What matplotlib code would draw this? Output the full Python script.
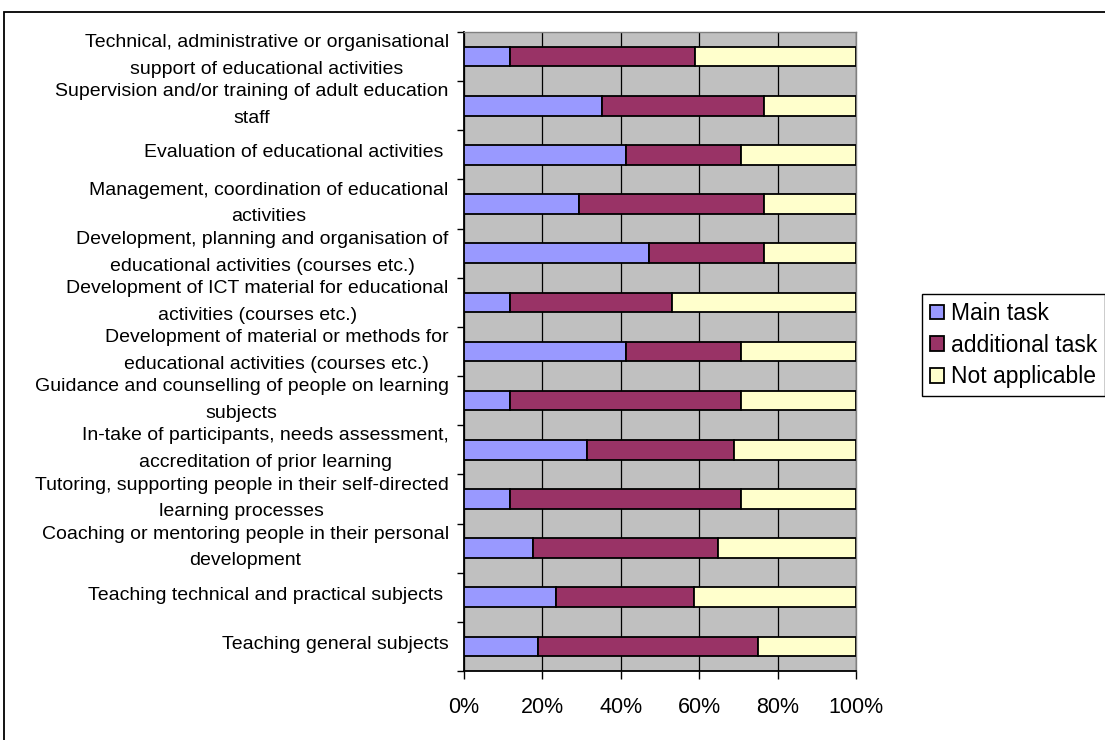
import matplotlib.pyplot as plt
from matplotlib.patches import Rectangle
from matplotlib.ticker import FixedLocator, PercentFormatter

# categories from bottom to top, as Excel draws them
categories = [
    "Teaching general subjects",
    "Teaching technical and practical subjects ",
    "Coaching or mentoring people in their personal\ndevelopment",
    "Tutoring, supporting people in their self-directed\nlearning processes",
    "In-take of participants, needs assessment,\naccreditation of prior learning",
    "Guidance and counselling of people on learning\nsubjects",
    "Development of material or methods for\neducational activities (courses etc.)",
    "Development of ICT material for educational\nactivities (courses etc.)",
    "Development, planning and organisation of\neducational activities (courses etc.)",
    "Management, coordination of educational\nactivities",
    "Evaluation of educational activities ",
    "Supervision and/or training of adult education\nstaff",
    "Technical, administrative or organisational\nsupport of educational activities",
]

# shares in percent
main_task = [18.75, 23.5, 17.6, 11.8, 31.25, 11.8, 41.2, 11.8, 47.1, 29.4, 41.2, 35.3, 11.8]
additional_task = [56.25, 35.3, 47.1, 58.8, 37.5, 58.8, 29.4, 41.2, 29.4, 47.1, 29.4, 41.2, 47.1]
not_applicable = [25.0, 41.2, 35.3, 29.4, 31.25, 29.4, 29.4, 47.1, 23.5, 23.5, 29.4, 23.5, 41.2]

series_names = ["Main task", "additional task", "Not applicable"]
colors = ["#9999FF", "#993366", "#FFFFCC"]

plt.rcParams["font.family"] = ["Liberation Sans", "DejaVu Sans"]

fig = plt.figure(figsize=(11.05, 7.4), dpi=100)
ax = fig.add_axes([464 / 1105, 1 - 671 / 740, 392 / 1105, 639 / 740])
ax.set_facecolor("#C0C0C0")

# outer chart border (partly cut off in the original)
fig.patches.append(Rectangle((4 / 1105, -0.1), 1.2, 1 - 12 / 740 + 0.1,
                             transform=fig.transFigure, fill=False,
                             edgecolor="black", linewidth=1.3))

ypos = list(range(len(categories)))
left = [0.0] * len(categories)
handles = []
for name, vals, col in zip(series_names, [main_task, additional_task, not_applicable], colors):
    bars = ax.barh(ypos, vals, left=left, height=0.4, color=col,
                   edgecolor="black", linewidth=1.3, label=name, zorder=3)
    handles.append(bars)
    left = [l + v for l, v in zip(left, vals)]

ax.set_xlim(0, 100)
ax.set_ylim(-0.5, len(categories) - 0.5)
ax.xaxis.set_major_locator(FixedLocator([0, 20, 40, 60, 80, 100]))
ax.xaxis.set_major_formatter(PercentFormatter(decimals=0))
ax.grid(axis="x", color="black", linewidth=0.9, zorder=1)
ax.set_axisbelow(True)

# Excel sits the labels a bit above the bar centre (more for wrapped ones);
# the major ticks are hidden so only the labels move
label_pos = [y + (0.15 if "\n" in c else 0.08) for y, c in zip(ypos, categories)]
ax.set_yticks(label_pos)
ax.set_yticklabels(categories, fontsize=14, linespacing=1.75, multialignment="center")
ax.set_yticks([i - 0.5 for i in range(len(categories) + 1)], minor=True)
ax.tick_params(axis="y", which="major", length=0, pad=11)
ax.tick_params(axis="y", which="minor", length=5, width=1, direction="out")
ax.tick_params(axis="x", length=6, width=1, direction="out", labelsize=15.5, pad=13)

for side in ["top", "right"]:
    ax.spines[side].set_color("#808080")
    ax.spines[side].set_linewidth(1)
for side in ["left", "bottom"]:
    ax.spines[side].set_linewidth(1.3)

fig.legend(handles=handles, loc="upper left", bbox_to_anchor=(922 / 1105, 1 - 294 / 740),
           frameon=True, fancybox=False, edgecolor="black", framealpha=1,
           fontsize=16.5, handlelength=0.6, handleheight=0.6, handletextpad=0.3,
           labelspacing=0.38, borderpad=0.35, borderaxespad=0)

fig.savefig("out.png", dpi=100)
